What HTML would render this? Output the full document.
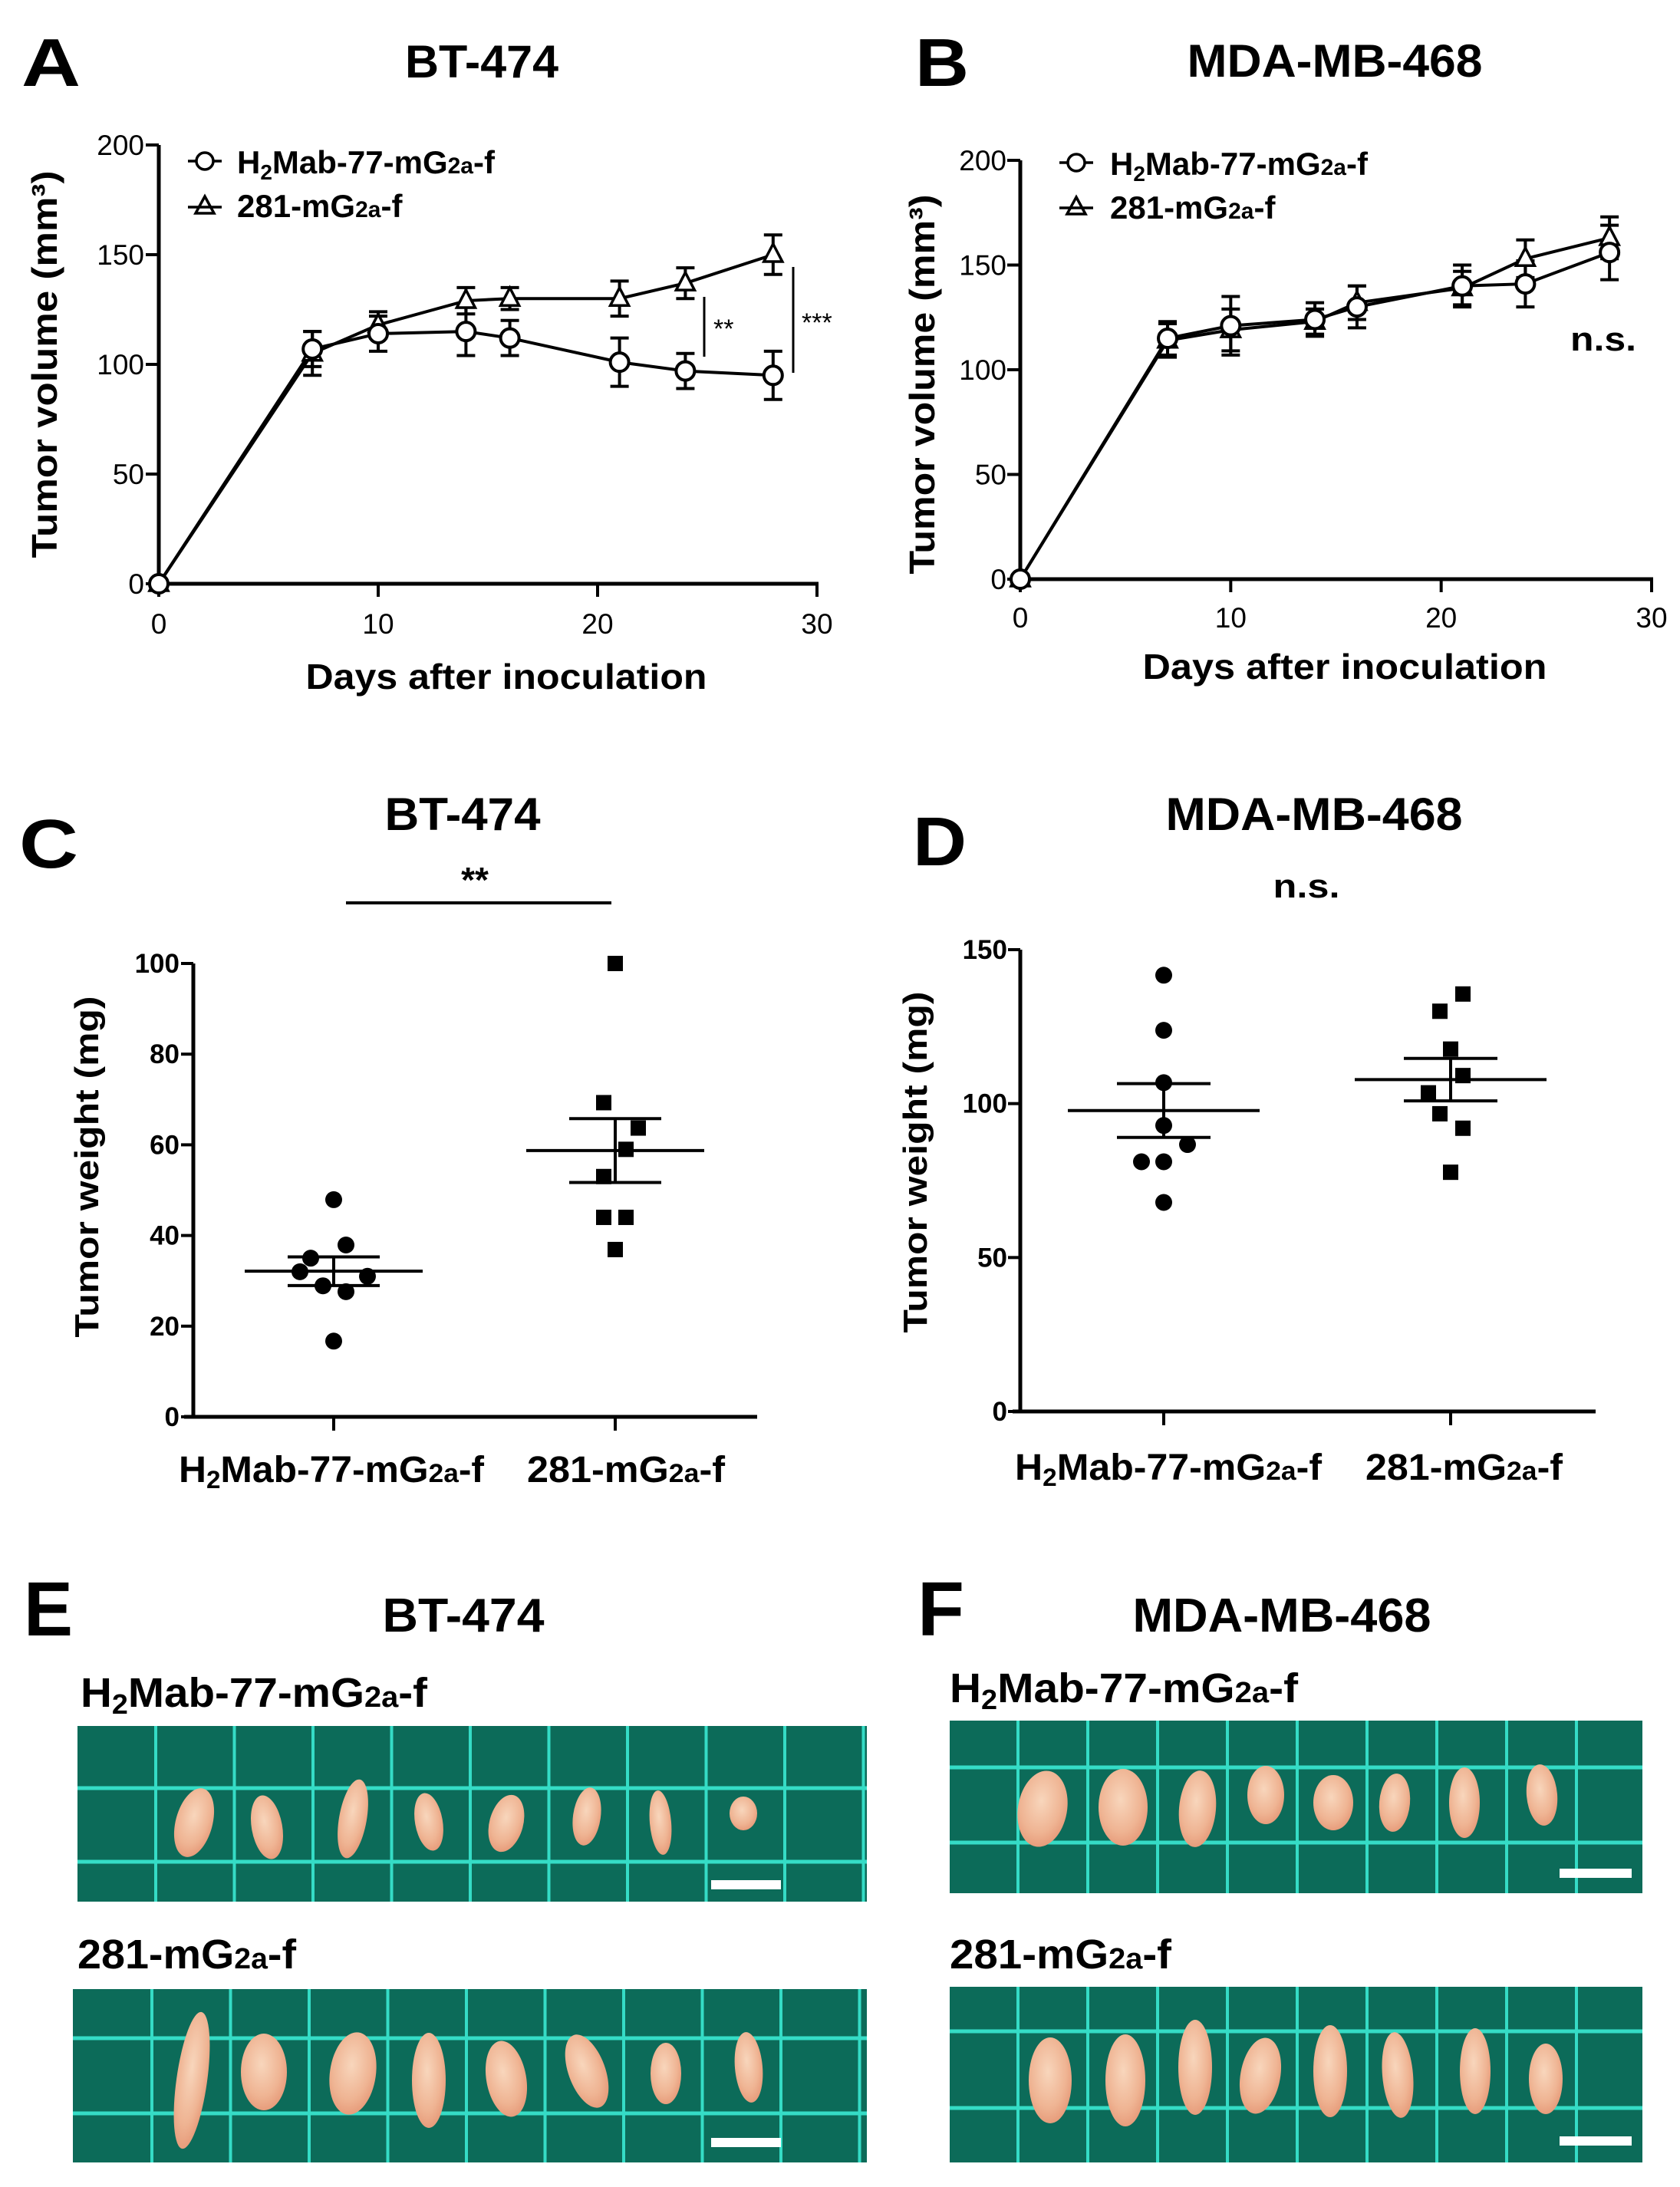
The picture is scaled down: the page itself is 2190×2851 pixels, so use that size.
<!DOCTYPE html>
<html><head><meta charset="utf-8">
<style>
html,body{margin:0;padding:0;background:#fff;}
svg{display:block;}
text{font-family:"Liberation Sans",Arial,sans-serif;fill:#000;}
.b{font-weight:bold;}
</style></head>
<body>
<svg id="fig" width="2190" height="2851" viewBox="0 0 2190 2851" xmlns="http://www.w3.org/2000/svg">
<defs>
<radialGradient id="tum" cx="45%" cy="40%" r="60%">
<stop offset="0%" stop-color="#f8d6bc"/><stop offset="70%" stop-color="#efb493"/><stop offset="100%" stop-color="#e79d7c"/>
</radialGradient>
</defs>
<!-- Panel letters and titles -->
<text class="b" x="28" y="112" font-size="88" textLength="77" lengthAdjust="spacingAndGlyphs">A</text>
<text class="b" x="628" y="101" font-size="60" text-anchor="middle" textLength="200" lengthAdjust="spacingAndGlyphs">BT-474</text>
<text class="b" x="1193" y="112" font-size="88" textLength="70" lengthAdjust="spacingAndGlyphs">B</text>
<text class="b" x="1740" y="100" font-size="60" text-anchor="middle" textLength="385" lengthAdjust="spacingAndGlyphs">MDA-MB-468</text>
<text class="b" x="25" y="1131" font-size="90" textLength="77" lengthAdjust="spacingAndGlyphs">C</text>
<text class="b" x="603" y="1082" font-size="60" text-anchor="middle" textLength="203" lengthAdjust="spacingAndGlyphs">BT-474</text>
<text class="b" x="1190" y="1128" font-size="90" textLength="70" lengthAdjust="spacingAndGlyphs">D</text>
<text class="b" x="1713" y="1082" font-size="60" text-anchor="middle" textLength="387" lengthAdjust="spacingAndGlyphs">MDA-MB-468</text>
<text class="b" x="31" y="2132" font-size="100" textLength="64" lengthAdjust="spacingAndGlyphs">E</text>
<text class="b" x="604" y="2127" font-size="62" text-anchor="middle" textLength="211" lengthAdjust="spacingAndGlyphs">BT-474</text>
<text class="b" x="1196" y="2132" font-size="100" textLength="61" lengthAdjust="spacingAndGlyphs">F</text>
<text class="b" x="1671" y="2127" font-size="62" text-anchor="middle" textLength="389" lengthAdjust="spacingAndGlyphs">MDA-MB-468</text>

<!-- Axis titles -->
<text class="b" x="660" y="898" font-size="46" text-anchor="middle" textLength="523" lengthAdjust="spacingAndGlyphs">Days after inoculation</text>
<text class="b" transform="translate(74,475) rotate(-90)" font-size="46" text-anchor="middle" textLength="505" lengthAdjust="spacingAndGlyphs">Tumor volume (mm³)</text>
<text class="b" x="1753" y="885" font-size="46" text-anchor="middle" textLength="527" lengthAdjust="spacingAndGlyphs">Days after inoculation</text>
<text class="b" transform="translate(1218,501) rotate(-90)" font-size="46" text-anchor="middle" textLength="495" lengthAdjust="spacingAndGlyphs">Tumor volume (mm³)</text>
<text class="b" transform="translate(128,1521) rotate(-90)" font-size="44" text-anchor="middle" textLength="445" lengthAdjust="spacingAndGlyphs">Tumor weight (mg)</text>
<text class="b" transform="translate(1208,1515) rotate(-90)" font-size="44" text-anchor="middle" textLength="445" lengthAdjust="spacingAndGlyphs">Tumor weight (mg)</text>

<!-- Legends -->
<g>
<text class="b" x="309" y="226" font-size="42">H<tspan font-size="28" dy="8">2</tspan><tspan dy="-8">Mab-77-mG</tspan><tspan font-size="30">2a</tspan>-f</text>
<text class="b" x="309" y="283" font-size="42">281-mG<tspan font-size="30">2a</tspan>-f</text>
</g>
<g>
<text class="b" x="1447" y="228" font-size="42">H<tspan font-size="28" dy="8">2</tspan><tspan dy="-8">Mab-77-mG</tspan><tspan font-size="30">2a</tspan>-f</text>
<text class="b" x="1447" y="285" font-size="42">281-mG<tspan font-size="30">2a</tspan>-f</text>
</g>

<!-- Significance annotations -->
<line x1="918" y1="387" x2="918" y2="465" stroke="#000" stroke-width="3"/>
<text x="930" y="440" font-size="34">**</text>
<line x1="1034" y1="348" x2="1034" y2="486" stroke="#000" stroke-width="3"/>
<text x="1045" y="432" font-size="34">***</text>
<text class="b" x="2090" y="457" font-size="44" text-anchor="middle" textLength="86" lengthAdjust="spacingAndGlyphs">n.s.</text>
<text class="b" x="619" y="1163" font-size="46" text-anchor="middle">**</text>
<line x1="451" y1="1177" x2="797" y2="1177" stroke="#000" stroke-width="4"/>
<text class="b" x="1703" y="1170" font-size="44" text-anchor="middle" textLength="87" lengthAdjust="spacingAndGlyphs">n.s.</text>

<!-- Category labels -->
<text class="b" x="233" y="1932" font-size="48" textLength="398" lengthAdjust="spacingAndGlyphs">H<tspan font-size="32" dy="8">2</tspan><tspan dy="-8">Mab-77-mG</tspan><tspan font-size="34">2a</tspan>-f</text>
<text class="b" x="687" y="1932" font-size="48" textLength="258" lengthAdjust="spacingAndGlyphs">281-mG<tspan font-size="34">2a</tspan>-f</text>
<text class="b" x="1323" y="1929" font-size="48" textLength="400" lengthAdjust="spacingAndGlyphs">H<tspan font-size="32" dy="8">2</tspan><tspan dy="-8">Mab-77-mG</tspan><tspan font-size="34">2a</tspan>-f</text>
<text class="b" x="1780" y="1929" font-size="48" textLength="257" lengthAdjust="spacingAndGlyphs">281-mG<tspan font-size="34">2a</tspan>-f</text>

<!-- Photo labels -->
<text class="b" x="105" y="2225" font-size="54" textLength="452" lengthAdjust="spacingAndGlyphs">H<tspan font-size="36" dy="9">2</tspan><tspan dy="-9">Mab-77-mG</tspan><tspan font-size="38">2a</tspan>-f</text>
<text class="b" x="101" y="2566" font-size="54" textLength="285" lengthAdjust="spacingAndGlyphs">281-mG<tspan font-size="38">2a</tspan>-f</text>
<text class="b" x="1238" y="2219" font-size="54" textLength="454" lengthAdjust="spacingAndGlyphs">H<tspan font-size="36" dy="9">2</tspan><tspan dy="-9">Mab-77-mG</tspan><tspan font-size="38">2a</tspan>-f</text>
<text class="b" x="1238" y="2566" font-size="54" textLength="289" lengthAdjust="spacingAndGlyphs">281-mG<tspan font-size="38">2a</tspan>-f</text>

<g id="plots"></g>
</svg>
<script>
// ---- Panel A/B data (tumor volume, mm3) ----
const days = [0, 7, 10, 14, 16, 21, 24, 28];
const volA_h2 = [0, 107, 114, 115, 112, 101, 97, 95];
const errA_h2 = [0, 8, 8, 11, 8, 11, 8, 11];
const volA_281 = [0, 105, 118, 129, 130, 130, 137, 150];
const errA_281 = [0, 10, 6, 6, 5, 8, 7, 9];
const volB_h2 = [0, 115, 121, 124, 130, 140, 141, 156];
const errB_h2 = [0, 8, 14, 8, 10, 10, 11, 13];
const volB_281 = [0, 114, 119, 123, 132, 139, 153, 163];
const errB_281 = [0, 8, 10, 6, 8, 8, 9, 10];
const volTicks = [0, 50, 100, 150, 200];
const dayTicks = [0, 10, 20, 30];
// ---- Panel C/D data (tumor weight, mg) ----
const wC_h2 = [47.9, 37.9, 35, 32, 31, 28.9, 27.6, 16.7];
const wC_281 = [100, 69.3, 63.7, 59, 53, 44, 44, 36.9];
const wD_h2 = [141.7, 123.8, 106.8, 92.9, 86.7, 81.1, 81.1, 67.9];
const wD_281 = [135.6, 130, 117.7, 109.1, 103.5, 96.7, 92, 77.7];
const ticksC = [0, 20, 40, 60, 80, 100];
const ticksD = [0, 50, 100, 150];

const NS = 'http://www.w3.org/2000/svg';
const root = document.getElementById('plots');
function mk(tag, attrs, parent) {
  const e = document.createElementNS(NS, tag);
  for (const k in attrs) e.setAttribute(k, attrs[k]);
  (parent || root).appendChild(e);
  return e;
}
function lin(d0, d1, r0, r1) { return v => r0 + (v - d0) * (r1 - r0) / (d1 - d0); }

function lineChart(key, X, Y, ax, tickRight, tickBase, s1, e1, s2, e2, legY1, legY2, legX) {
  const g = mk('g', {});
  
  
  // axes
  const ya = mk('line', {x1: X(0), y1: Y(0) + 2, x2: X(0), y2: Y(200), stroke: '#000', 'stroke-width': 5}, g);
  
  
  const xa = mk('line', {x1: X(0) - 2, y1: Y(0), x2: X(30) + 2, y2: Y(0), stroke: '#000', 'stroke-width': 5}, g);
  
  
  volTicks.forEach(t => {
    mk('line', {x1: X(0) - 17, y1: Y(t), x2: X(0), y2: Y(t), stroke: '#000', 'stroke-width': 4}, g);
    const tx = mk('text', {x: tickRight, y: Y(t) + 13, 'font-size': 37, 'text-anchor': 'end'}, g);
    tx.textContent = t;
    
    
  });
  dayTicks.forEach(t => {
    mk('line', {x1: X(t), y1: Y(0), x2: X(t), y2: Y(0) + 17, stroke: '#000', 'stroke-width': 4}, g);
    const tx = mk('text', {x: X(t), y: tickBase, 'font-size': 37, 'text-anchor': 'middle'}, g);
    tx.textContent = t;
    
    
  });
  [[s1, 'h2mab'], [s2, '281']].forEach(([s, nm]) => {
    const pl = mk('polyline', {points: days.map((d, i) => X(d) + ',' + Y(s[i])).join(' '), fill: 'none', stroke: '#000', 'stroke-width': 4}, g);
    
    
  });
  [[s1, e1], [s2, e2]].forEach(([s, e]) => {
    days.forEach((d, i) => {
      if (!e[i]) return;
      const x = X(d), yt = Y(s[i] + e[i]), yb = Y(s[i] - e[i]);
      const eb = mk('path', {d: `M${x},${yt}V${yb}M${x - 12},${yt}H${x + 12}M${x - 12},${yb}H${x + 12}`, stroke: '#000', 'stroke-width': 4, fill: 'none'}, g);
      
      
    });
  });
  days.forEach((d, i) => {
    const x = X(d), y = Y(s2[i]);
    const tr = mk('path', {d: `M${x},${y - 14}L${x + 12},${y + 9}L${x - 12},${y + 9}Z`, fill: '#fff', stroke: '#000', 'stroke-width': 3.5}, g);
    
    
  });
  days.forEach((d, i) => {
    const c = mk('circle', {cx: X(d), cy: Y(s1[i]), r: 12, fill: '#fff', stroke: '#000', 'stroke-width': 4}, g);
    
    
  });
  // legend markers
  mk('line', {x1: legX - 22, y1: legY1, x2: legX + 22, y2: legY1, stroke: '#000', 'stroke-width': 3.5}, g);
  const lc = mk('circle', {cx: legX, cy: legY1, r: 11, fill: '#fff', stroke: '#000', 'stroke-width': 3.5}, g);
  
  
  mk('line', {x1: legX - 22, y1: legY2, x2: legX + 22, y2: legY2, stroke: '#000', 'stroke-width': 3.5}, g);
  const lt = mk('path', {d: `M${legX},${legY2 - 14}L${legX + 12},${legY2 + 8}L${legX - 12},${legY2 + 8}Z`, fill: 'none', stroke: '#000', 'stroke-width': 3.5}, g);
  
  
}
lineChart('a', lin(0, 30, 207, 1065), lin(0, 200, 761, 189), null, 188, 826, volA_h2, errA_h2, volA_281, errA_281, 210, 270, 267);
lineChart('b', lin(0, 30, 1330, 2153), lin(0, 200, 755, 209), null, 1312, 818, volB_h2, errB_h2, volB_281, errB_281, 212, 271, 1403);

function meanSem(a) {
  const m = a.reduce((s, v) => s + v, 0) / a.length;
  const sd = Math.sqrt(a.reduce((s, v) => s + (v - m) * (v - m), 0) / (a.length - 1));
  return [m, sd / Math.sqrt(a.length)];
}
function scatter(key, Y, ymax, ticks, axX, axX0, axX1, tickRight, cats, g1, g2, jit1, jit2, mw, sw) {
  const g = mk('g', {});
  
  
  const ya = mk('line', {x1: axX, y1: Y(0), x2: axX, y2: Y(ymax), stroke: '#000', 'stroke-width': 5}, g);
  
  
  const xa = mk('line', {x1: axX0, y1: Y(0), x2: axX1, y2: Y(0), stroke: '#000', 'stroke-width': 5}, g);
  
  
  ticks.forEach(t => {
    mk('line', {x1: axX - 16, y1: Y(t), x2: axX, y2: Y(t), stroke: '#000', 'stroke-width': 4}, g);
    const tx = mk('text', {x: tickRight, y: Y(t) + 12, 'font-size': 35, 'font-weight': 'bold', 'text-anchor': 'end'}, g);
    tx.textContent = t;
    
    
  });
  cats.forEach(cx => mk('line', {x1: cx, y1: Y(0), x2: cx, y2: Y(0) + 18, stroke: '#000', 'stroke-width': 4}, g));
  [[g1, jit1, cats[0], 'h2mab', 'circle'], [g2, jit2, cats[1], '281', 'square']].forEach(([vals, jit, cx, nm, shape], k) => {
    vals.forEach((v, i) => {
      const x = cx + jit[i], y = Y(v);
      let p;
      if (shape === 'circle') p = mk('circle', {cx: x, cy: y, r: 11, fill: '#000'}, g);
      else p = mk('rect', {x: x - 10, y: y - 10, width: 20, height: 20, fill: '#000'}, g);
      
      
    });
    const [m, se] = meanSem(vals);
    const ml = mk('line', {x1: cx - mw, y1: Y(m), x2: cx + mw, y2: Y(m), stroke: '#000', 'stroke-width': 4}, g);
    
    
    const sp = mk('path', {d: `M${cx - sw},${Y(m + se)}H${cx + sw}M${cx - sw},${Y(m - se)}H${cx + sw}M${cx},${Y(m + se)}V${Y(m - se)}`, stroke: '#000', 'stroke-width': 4, fill: 'none'}, g);
    
    
  });
}
scatter('c', lin(0, 100, 1847, 1256), 100, ticksC, 252, 240, 987, 234, [435, 802], wC_h2, wC_281,
  [0, 16, -30, -44, 44, -14, 16, 0], [0, -15, 30, 14, -15, -15, 14, 0], 116, 60);
scatter('d', lin(0, 150, 1840, 1238), 150, ticksD, 1330, 1320, 2080, 1313, [1517, 1891], wD_h2, wD_281,
  [0, 0, 0, 0, 31, -29, 0, 0], [16, -14, 0, 16, -29, -14, 16, 0], 125, 61);

// ---- Photos (E, F) ----
function photo(key, x0, y0, w, h, vx0, vstep, hlines, bar, tumors) {
  const g = mk('g', {});
  
  
  mk('rect', {x: x0, y: y0, width: w, height: h, fill: '#0c6b59'}, g);
  for (let x = vx0; x < x0 + w; x += vstep) mk('line', {x1: x, y1: y0, x2: x, y2: y0 + h, stroke: '#35dcc6', 'stroke-width': 4}, g);
  hlines.forEach(y => mk('line', {x1: x0, y1: y, x2: x0 + w, y2: y, stroke: '#35dcc6', 'stroke-width': 5}, g));
  tumors.forEach(([cx, cy, rx, ry, rot]) => {
    const t = mk('ellipse', {cx, cy, rx, ry, fill: 'url(#tum)', transform: `rotate(${rot} ${cx} ${cy})`}, g);
    
    
  });
  const sb = mk('rect', {x: bar[0], y: bar[1], width: bar[2], height: 12, fill: '#fff'}, g);
  
  
}
photo('e-h2mab', 101, 2250, 1029, 229, 203, 102.5, [2331, 2427], [927, 2451, 91],
  [[253, 2376, 24, 46, 15], [348, 2382, 20, 42, -10], [460, 2371, 18, 52, 10], [559, 2375, 18, 38, -10], [660, 2377, 22, 38, 15], [765, 2368, 18, 38, 8], [861, 2376, 14, 42, -5], [969, 2364, 18, 22, 0]]);
photo('e-281', 95, 2593, 1035, 226, 198, 102.5, [2657, 2755], [927, 2787, 91],
  [[250, 2712, 20, 90, 8], [344, 2701, 30, 50, 0], [460, 2703, 30, 54, 8], [559, 2712, 22, 62, 0], [660, 2710, 26, 50, -10], [765, 2700, 24, 50, -20], [868, 2703, 20, 40, 0], [976, 2695, 18, 46, -5]]);
photo('f-h2mab', 1238, 2243, 903, 225, 1327, 91, [2304, 2402], [2033, 2436, 94],
  [[1359, 2358, 32, 50, 10], [1464, 2356, 32, 50, 0], [1561, 2358, 24, 50, 5], [1650, 2340, 24, 38, 0], [1738, 2350, 26, 36, 0], [1818, 2350, 20, 38, 5], [1909, 2350, 20, 46, 0], [2010, 2340, 20, 40, -5]]);
photo('f-281', 1238, 2590, 903, 229, 1327, 91, [2648, 2748], [2033, 2785, 94],
  [[1369, 2712, 28, 56, 0], [1467, 2712, 26, 60, 0], [1558, 2695, 22, 62, 0], [1643, 2706, 26, 50, 10], [1734, 2700, 22, 60, 0], [1822, 2705, 20, 56, -5], [1923, 2700, 20, 56, 0], [2015, 2710, 22, 46, 0]]);
</script>
</body></html>
